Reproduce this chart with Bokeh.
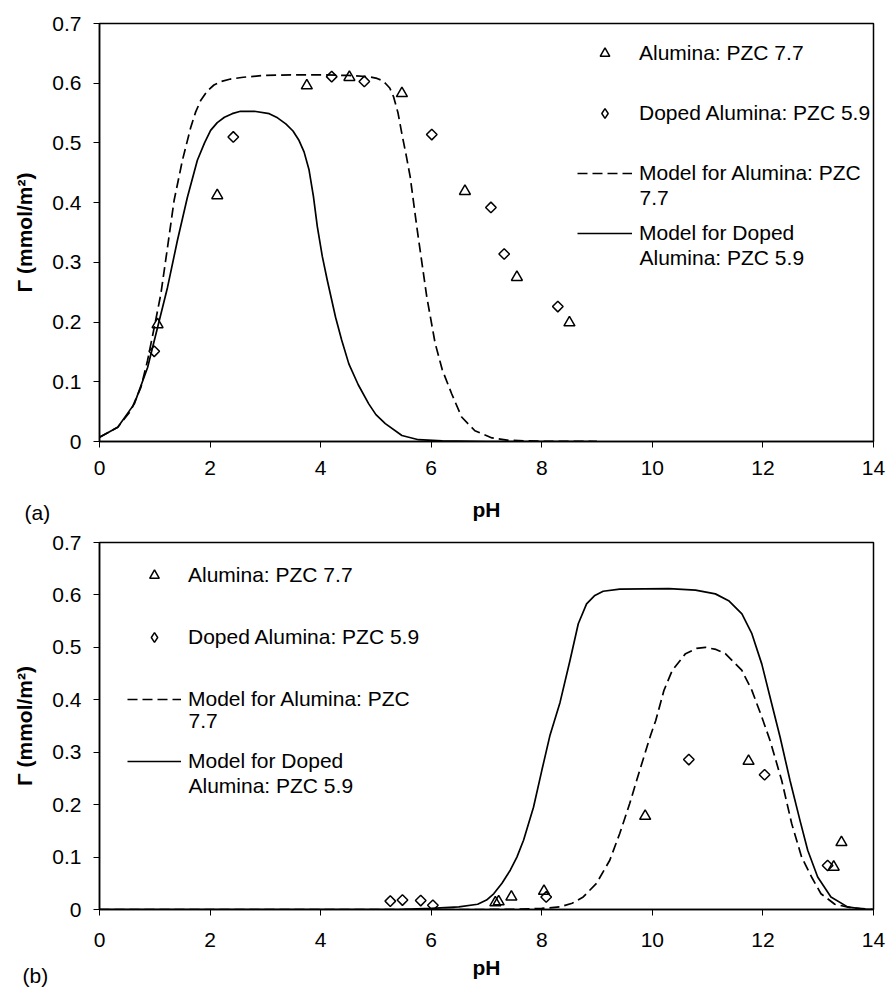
import numpy as np
from bokeh.plotting import figure
from bokeh.layouts import column
from bokeh.models import (Legend, LegendItem, Label, FixedTicker, NumeralTickFormatter, Range1d,
                          Title)
from bokeh.embed import file_html
from bokeh.resources import INLINE

# ---------------- data ----------------
x_ticks = [0, 2, 4, 6, 8, 10, 12, 14]
y_ticks = [0, 0.1, 0.2, 0.3, 0.4, 0.5, 0.6, 0.7]

# panel (a) measured points
a_alumina_ph = [1.05, 2.13, 3.75, 4.52, 5.47, 6.61, 7.55, 8.50]
a_alumina_g = [0.196, 0.412, 0.596, 0.610, 0.583, 0.419, 0.275, 0.199]
a_doped_ph = [0.99, 2.42, 4.20, 4.79, 6.01, 7.08, 7.32, 8.29]
a_doped_g = [0.151, 0.510, 0.611, 0.603, 0.514, 0.392, 0.314, 0.226]

# panel (a) model curves
a_model_alumina_ph = [0, 0.33, 0.57, 0.75, 0.87, 0.99, 1.11, 1.23, 1.35, 1.50, 1.65, 1.74, 1.83,
                      1.95, 2.07, 2.20, 2.37, 2.60, 2.98, 3.5, 4.0, 4.5, 4.87, 5.02, 5.10, 5.17,
                      5.25, 5.32, 5.40, 5.47, 5.55, 5.62, 5.74, 5.92, 6.07, 6.20, 6.37, 6.55,
                      6.79, 7.10, 7.40, 8.0, 9.0]
a_model_alumina_g = [0.007, 0.024, 0.052, 0.091, 0.136, 0.191, 0.247, 0.325, 0.404, 0.471, 0.526,
                     0.552, 0.571, 0.587, 0.597, 0.603, 0.607, 0.610, 0.613, 0.614, 0.614, 0.613,
                     0.611, 0.608, 0.605, 0.600, 0.592, 0.577, 0.550, 0.515, 0.478, 0.443, 0.359,
                     0.242, 0.165, 0.120, 0.080, 0.041, 0.018, 0.006, 0.002, 0.0003, 0.0]
a_model_doped_ph = [0, 0.33, 0.63, 0.87, 1.05, 1.23, 1.41, 1.59, 1.77, 1.90, 2.01, 2.13, 2.26,
                    2.40, 2.55, 2.80, 3.07, 3.22, 3.37, 3.50, 3.61, 3.70, 3.79, 3.87, 3.94, 4.03,
                    4.12, 4.27, 4.38, 4.51, 4.68, 4.87, 5.00, 5.17, 5.47, 5.77, 6.2, 7.0, 8.0, 9.0]
a_model_doped_g = [0.007, 0.024, 0.063, 0.124, 0.191, 0.258, 0.337, 0.409, 0.471, 0.500, 0.521,
                   0.534, 0.543, 0.549, 0.553, 0.553, 0.549, 0.542, 0.532, 0.520, 0.504, 0.485,
                   0.455, 0.410, 0.360, 0.310, 0.270, 0.208, 0.170, 0.130, 0.095, 0.063, 0.045,
                   0.030, 0.010, 0.003, 0.001, 0.0, 0.0, 0.0]

# panel (b) measured points
b_alumina_ph = [7.16, 7.22, 7.45, 8.04, 9.87, 11.74, 13.28, 13.42]
b_alumina_g = [0.013, 0.015, 0.024, 0.035, 0.178, 0.283, 0.081, 0.128]
b_doped_ph = [5.26, 5.48, 5.81, 6.03, 8.08, 10.66, 12.03, 13.17]
b_doped_g = [0.016, 0.018, 0.017, 0.008, 0.024, 0.286, 0.257, 0.084]

# panel (b) model curves
b_model_alumina_ph = [0, 7.0, 7.5, 8.0, 8.33, 8.55, 8.75, 8.99, 9.23, 9.41, 9.59, 9.77, 9.97,
                      10.06, 10.21, 10.36, 10.60, 10.80, 10.96, 11.15, 11.32, 11.62, 11.80,
                      11.98, 12.13, 12.34, 12.52, 12.70, 12.88, 13.05, 13.3, 13.6, 14.0]
b_model_alumina_g = [0.0, 0.0, 0.0005, 0.002, 0.005, 0.012, 0.024, 0.050, 0.094, 0.145, 0.202,
                     0.265, 0.333, 0.360, 0.418, 0.456, 0.488, 0.498, 0.500, 0.496, 0.488, 0.456,
                     0.418, 0.367, 0.322, 0.246, 0.164, 0.100, 0.062, 0.030, 0.010, 0.003, 0.0]
b_model_doped_ph = [0, 5.0, 5.5, 6.0, 6.5, 6.84, 7.0, 7.13, 7.28, 7.43, 7.55, 7.67, 7.85, 8.00,
                    8.15, 8.33, 8.51, 8.66, 8.81, 8.96, 9.11, 9.41, 10.30, 10.78, 11.14, 11.38,
                    11.62, 11.80, 11.98, 12.16, 12.31, 12.49, 12.67, 12.81, 12.99, 13.23, 13.53,
                    13.8, 14.0]
b_model_doped_g = [0.0, 0.0, 0.0005, 0.002, 0.005, 0.010, 0.018, 0.030, 0.050, 0.075, 0.100,
                   0.132, 0.195, 0.265, 0.333, 0.395, 0.475, 0.545, 0.583, 0.599, 0.607, 0.611,
                   0.612, 0.609, 0.602, 0.589, 0.564, 0.526, 0.468, 0.392, 0.329, 0.246, 0.170,
                   0.113, 0.062, 0.024, 0.005, 0.001, 0.0]

legend_labels = ["Alumina: PZC 7.7", "Doped Alumina: PZC 5.9",
                 "Model for Alumina: PZC", "Model for Doped"]
legend_cont = ["7.7", "Alumina: PZC 5.9"]

FONT = "Liberation Sans"
FS = "21px"


def make_panel(height, borders, pts, curves, legend_loc, glyph_w, spacing, cont_x, cont_y,
               tag, tag_offset, tag_standoff, tag_lh, tick_standoff, title_standoff):
    bl, br, bt, bb = borders
    p = figure(width=891, height=height, x_range=Range1d(0, 14), y_range=Range1d(0, 0.7),
               output_backend="svg", toolbar_location=None,
               min_border_left=bl, min_border_right=br, min_border_top=bt, min_border_bottom=bb)
    p.xgrid.visible = False
    p.ygrid.visible = False
    p.outline_line_color = "black"
    p.outline_line_width = 1.5
    p.xaxis.ticker = FixedTicker(ticks=x_ticks)
    p.yaxis.ticker = FixedTicker(ticks=y_ticks)
    p.yaxis.formatter = NumeralTickFormatter(format="0.[0]")
    for ax in (p.xaxis[0], p.yaxis[0]):
        ax.minor_tick_line_color = None
        ax.major_tick_in = 0
        ax.major_tick_out = 6
        ax.axis_line_width = 1.5
        ax.axis_line_color = "black"
        ax.major_tick_line_color = "black"
        ax.major_label_text_font = FONT
        ax.major_label_text_font_size = FS
        ax.major_label_text_color = "black"
        ax.axis_label_text_font = FONT
        ax.axis_label_text_font_size = FS
        ax.axis_label_text_font_style = "bold"
        ax.axis_label_text_color = "black"
    p.xaxis.axis_label = "pH"
    p.yaxis.axis_label = "Γ (mmol/m²)"
    p.xaxis.major_label_standoff = tick_standoff
    p.xaxis.axis_label_standoff = title_standoff
    p.yaxis.major_label_standoff = 12
    p.yaxis.axis_label_standoff = 13

    (al_x, al_y), (dp_x, dp_y) = pts
    (ma_x, ma_y), (md_x, md_y) = curves
    r_dash = p.line(ma_x, ma_y, line_color="black", line_width=1.7, line_dash="10 5")
    r_solid = p.line(md_x, md_y, line_color="black", line_width=1.7)
    r_tri = p.scatter(al_x, al_y, marker="triangle", size=11, fill_color=None,
                      line_color="black", line_width=1.5)
    p.scatter(dp_x, dp_y, marker="square", angle=np.pi / 4, size=7.5, fill_color=None,
              line_color="black", line_width=1.5)
    # hidden twin used only as the legend swatch (legend glyphs ignore the marker angle)
    r_dia_key = p.scatter(dp_x, dp_y, marker="diamond", fill_color=None,
                          line_color="black", line_width=1.5, visible=False)

    legend = Legend(items=[LegendItem(label=legend_labels[0], renderers=[r_tri]),
                           LegendItem(label=legend_labels[1], renderers=[r_dia_key]),
                           LegendItem(label=legend_labels[2], renderers=[r_dash]),
                           LegendItem(label=legend_labels[3], renderers=[r_solid])],
                    location=legend_loc, orientation="vertical", padding=0, margin=0,
                    spacing=spacing, glyph_width=glyph_w, glyph_height=24, label_height=24,
                    label_standoff=7, label_text_font=FONT, label_text_font_size=FS,
                    label_text_color="black", border_line_color=None, background_fill_alpha=0,
                    inactive_fill_alpha=0)
    p.add_layout(legend)
    for txt, yy in zip(legend_cont, cont_y):
        p.add_layout(Label(x=cont_x, y=yy, x_units="screen", y_units="screen", text=txt,
                           text_font=FONT, text_font_size=FS, text_baseline="middle",
                           text_align="left", text_color="black"))
    p.add_layout(Title(text=tag + "\n", align="left", offset=tag_offset, vertical_align="top",
                       standoff=tag_standoff, text_line_height=tag_lh, text_font=FONT,
                       text_font_size=FS, text_font_style="normal", text_color="black"),
                 "below")
    return p


p1 = make_panel(530, (97, 18, 23, 89),
                ((a_alumina_ph, a_alumina_g), (a_doped_ph, a_doped_g)),
                ((a_model_alumina_ph, a_model_alumina_g), (a_model_doped_ph, a_model_doped_g)),
                (478, 196), 55, 36, 540, (244, 184), "(a)", -75, -45, 1.0, 13, 20)
p2 = make_panel(457, (99, 12, 12, 78),
                ((b_alumina_ph, b_alumina_g), (b_doped_ph, b_doped_g)),
                ((b_model_alumina_ph, b_model_alumina_g), (b_model_doped_ph, b_model_doped_g)),
                (28, 136), 54, 38, 89, (189, 124), "(b)", -77, -36, 0.7, 17, 6)

layout = column(p1, p2, spacing=0)
open("out.html", "w").write(file_html(layout, INLINE))
